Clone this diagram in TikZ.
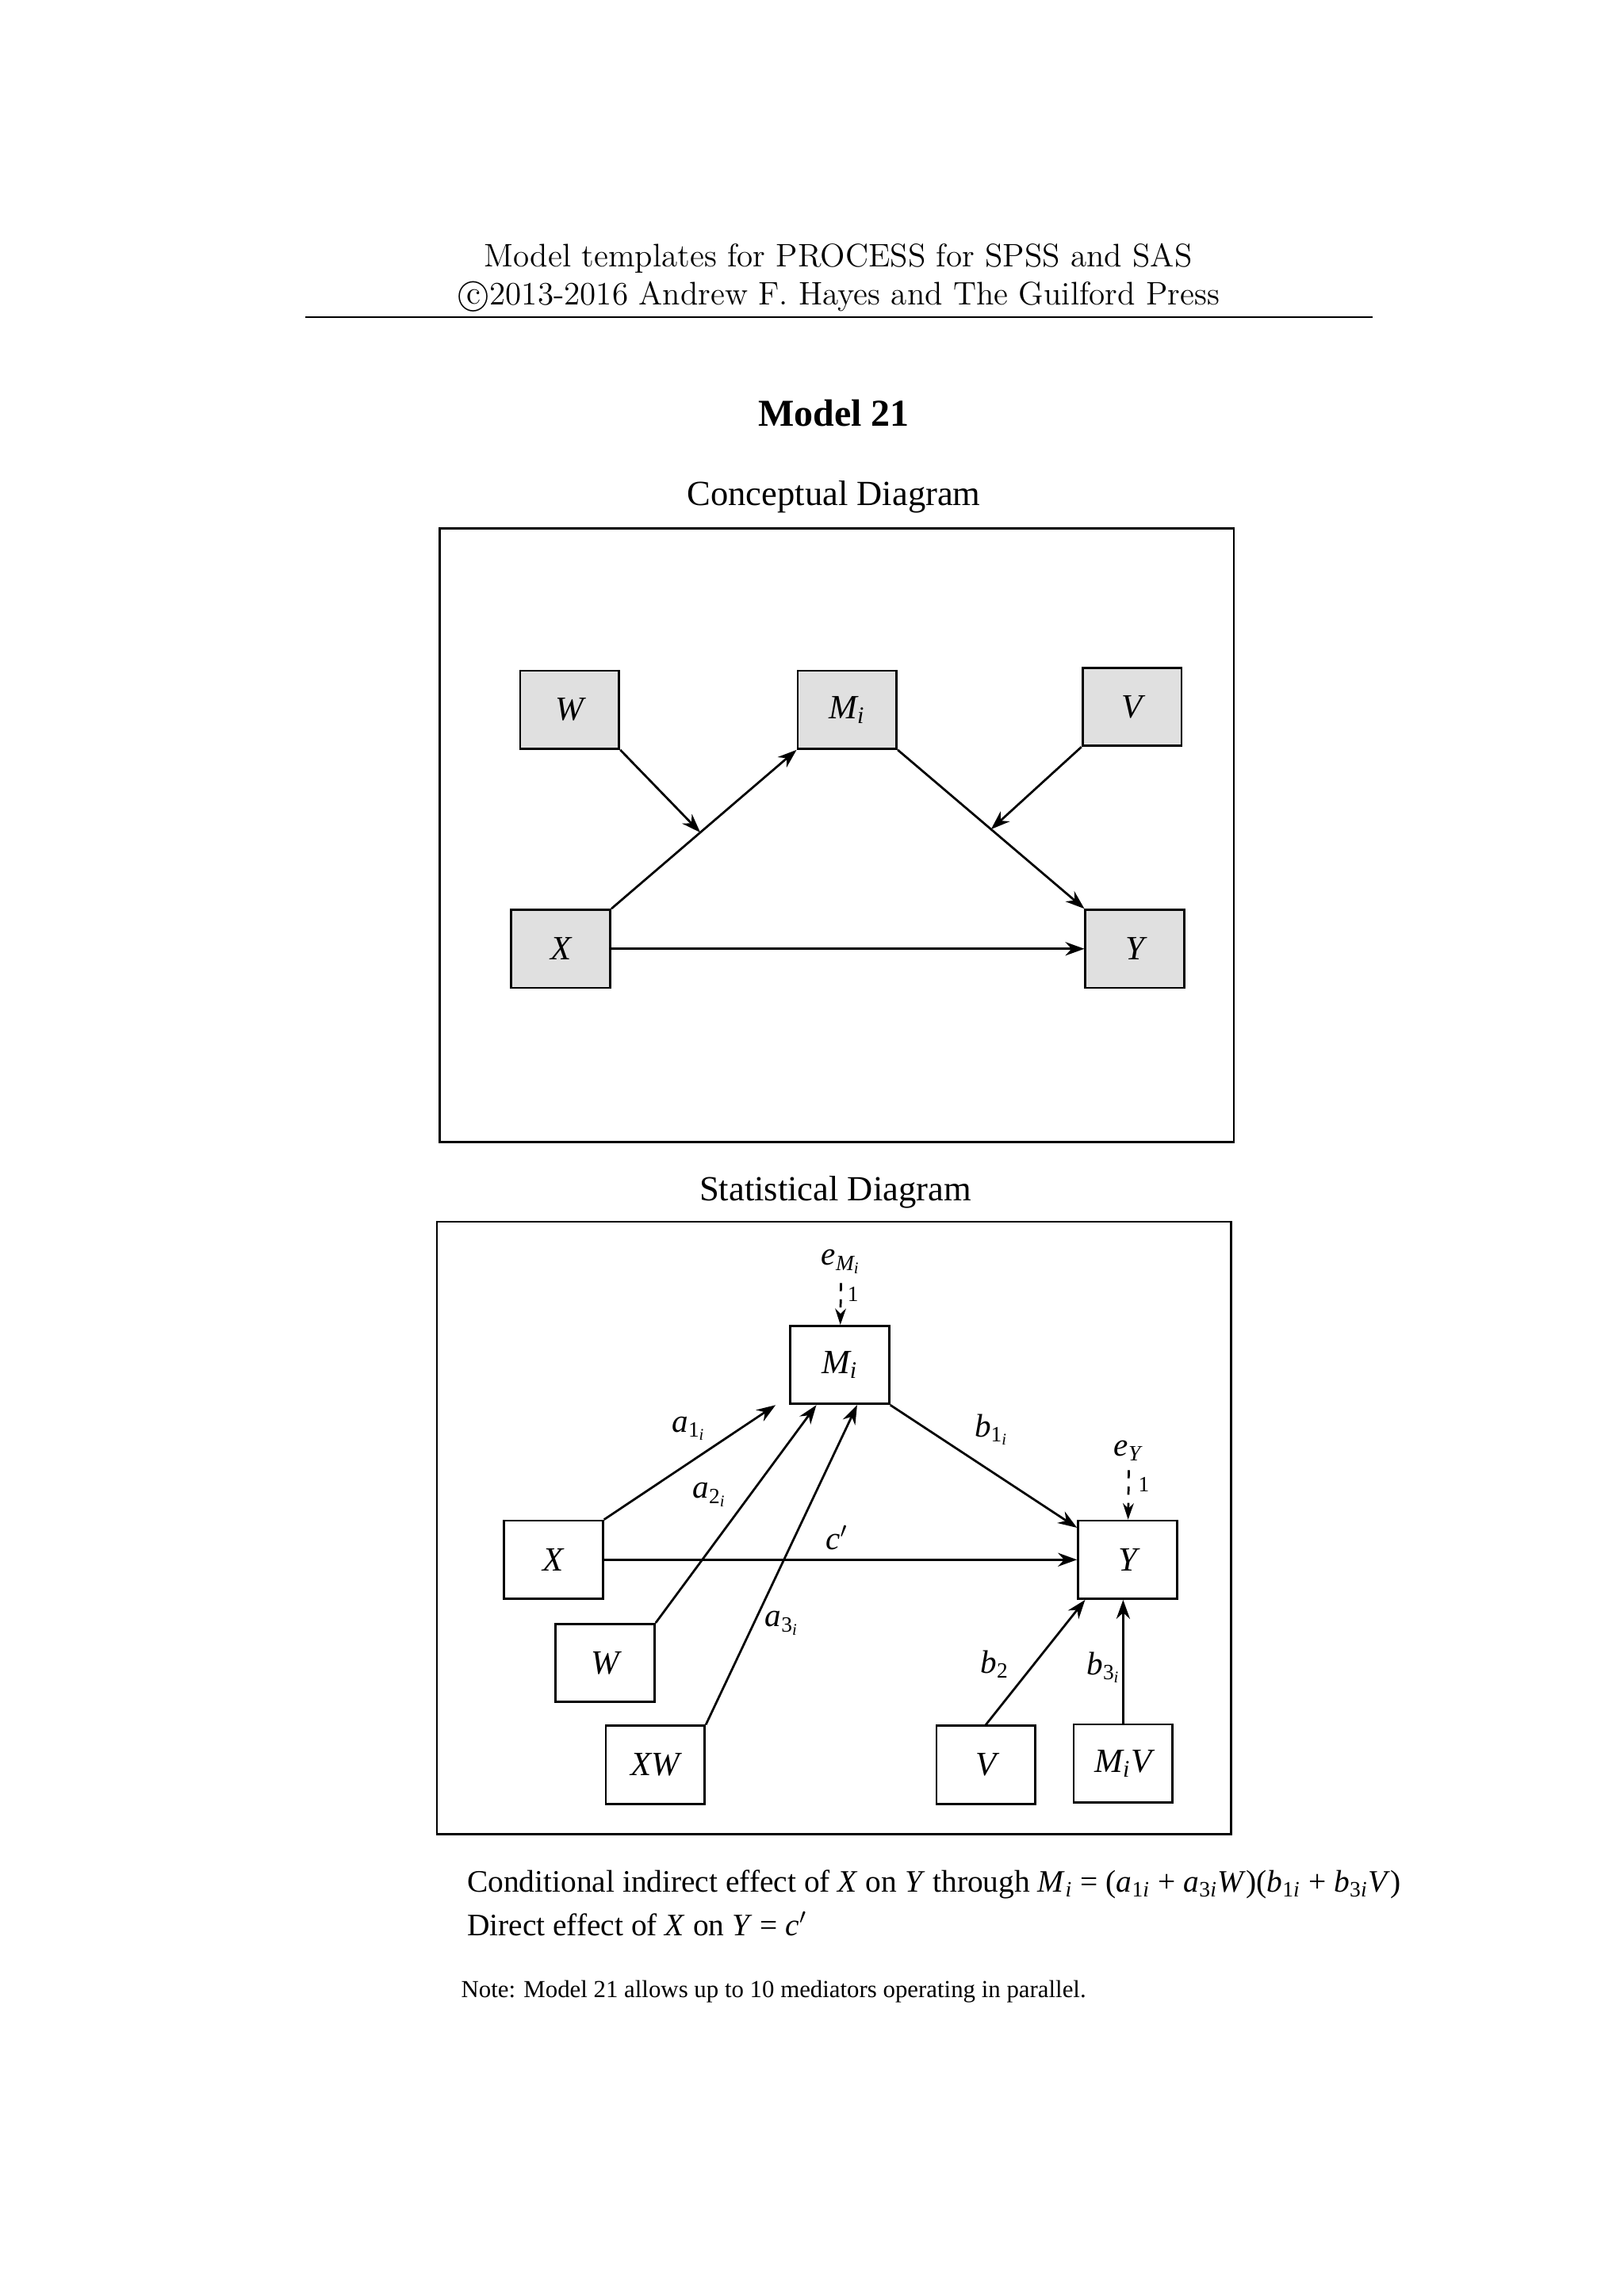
\documentclass[tikz,border=0pt]{standalone}
\usepackage{fontspec}
\usepackage{tikz}
\usetikzlibrary{arrows.meta,positioning,calc}
\newfontfamily\tms{Liberation Serif}
\newcommand{\vi}[1]{\textit{#1}}
\newcommand{\vsub}[2]{\textit{#1}\textsubscript{\textit{#2}}}
\newcommand{\vsubsub}[3]{\textit{#1}\textsubscript{#2\textsubscript{\textit{#3}}}}
\tikzset{
  var/.style={draw,thick,minimum width=1.28cm,minimum height=1.01cm,inner sep=0pt,font=\tms\fontsize{12.5}{15}\selectfont\itshape},
  cvar/.style={var,fill=black!12},
  path/.style={draw,thick,-{Stealth[length=7pt,width=5pt]}},
  err/.style={draw,thick,dashed,-{Stealth[length=6pt,width=4pt]}},
  lab/.style={font=\tms\fontsize{12}{14}\selectfont},
  one/.style={font=\tms\fontsize{8}{9}\selectfont}
}
\begin{document}
\begin{tikzpicture}[x=0.01909cm,y=-0.01909cm]
		\useasboundingbox (0,0) rectangle (1100,1556);
		% header
		\node (head1) at (568,175) [font=\fontsize{12}{14}\selectfont] {Model templates for PROCESS for SPSS and SAS};
		\node (head2) at (568,201) [font=\fontsize{12}{14}\selectfont] {\textcircled{c}2013-2016 Andrew F. Hayes and The Guilford Press};
		\path [draw,thin] (207,215) -- (930,215);
		\node (title) at (565,280) [font=\tms\fontsize{14}{16}\selectfont\bfseries] {Model 21};
		% conceptual diagram
		\node (ctitle) at (565,337) [font=\tms\fontsize{13}{15}\selectfont] {Conceptual Diagram};
		\path [draw,thick] (298,358) rectangle (836,774);
		\node (cW) at (386,481) [cvar] {W};
		\node (cM) at (574,481) [cvar] {M\textsubscript{i}};
		\node (cV) at (767,479) [cvar] {V};
		\node (cX) at (380,643) [cvar] {X};
		\node (cY) at (769,643) [cvar] {Y};
		\path [path] (cX.north east) -- (cM.south west);
		\path [path] (cM.south east) -- (cY.north west);
		\path [path] (cX) -- (cY);
		\coordinate (cXM) at ($(cX.north east)!0.48!(cM.south west)$);
		\coordinate (cMY) at ($(cM.south east)!0.5!(cY.north west)$);
		\path [path] (cW.south east) -- (cXM);
		\path [path] (cV.south west) -- (cMY);
		% statistical diagram
		\node (stitle) at (566,808) [font=\tms\fontsize{13}{15}\selectfont] {Statistical Diagram};
		\path [draw,thick] (296,828) rectangle (834,1243);
		\node (M) at (569,925) [var] {M\textsubscript{i}};
		\node (X) at (375,1057) [var] {X};
		\node (Y) at (764,1057) [var] {Y};
		\node (W) at (410,1127) [var] {W};
		\node (XW) at (444,1196) [var] {XW};
		\node (V) at (668,1196) [var] {V};
		\node (MV) at (761,1195) [var] {M\textsubscript{i}V};
		\node (eM) at (570,855) [lab] {\vsub{e}{M\textsubscript{i}}};
		\node (eY) at (765,983) [lab] {\vsub{e}{Y}};
		\path [err] (eM) -- (M);
		\path [err] (eY) -- (Y);
		\node at (578,877) [one] {1};
		\node at (775,1006) [one] {1};
		\path [path] (X.north east) -- ([xshift=-5pt]M.south west);
		\path [path] (W.north east) -- ([xshift=10pt]M.south west);
		\path [path] (XW.north east) -- ([xshift=25pt]M.south west);
		\path [path] (M.south east) -- ([yshift=-3pt]Y.north west);
		\path [path] (X) -- (Y);
		\path [path] (V.north) -- ([xshift=3pt]Y.south west);
		\path [path] (MV.north) -- (Y.south -| MV.north);
		\node at (467,968) [lab] {\vsubsub{a}{1}{i}};
		\node at (481,1013) [lab] {\vsubsub{a}{2}{i}};
		\node at (530,1100) [lab] {\vsubsub{a}{3}{i}};
		\node at (672,969) [lab] {\vsubsub{b}{1}{i}};
		\node at (567,1042) [lab] {\vi{c}$'$};
		\node at (674,1128) [lab] {\textit{b}\textsubscript{2}};
		\node at (748,1130) [lab] {\vsubsub{b}{3}{i}};
		% effects
		\node (ind) at (310,1277) [anchor=west,font=\tms\fontsize{11.5}{14}\selectfont] {Conditional indirect effect of \vi{X} on \vi{Y} through \vsub{M}{i} = (\textit{a}\textsubscript{1\textit{i}} + \textit{a}\textsubscript{3\textit{i}}\vi{W})(\textit{b}\textsubscript{1\textit{i}} + \textit{b}\textsubscript{3\textit{i}}\vi{V})};
		\node (dir) at (310,1304) [anchor=west,font=\tms\fontsize{11.5}{14}\selectfont] {Direct effect of \vi{X} on \vi{Y} = \vi{c}$'$};
		\node (note) at (306,1350) [anchor=west,font=\tms\fontsize{9}{11}\selectfont] {Note: Model 21 allows up to 10 mediators operating in parallel.};
	\end{tikzpicture}
\end{document}
